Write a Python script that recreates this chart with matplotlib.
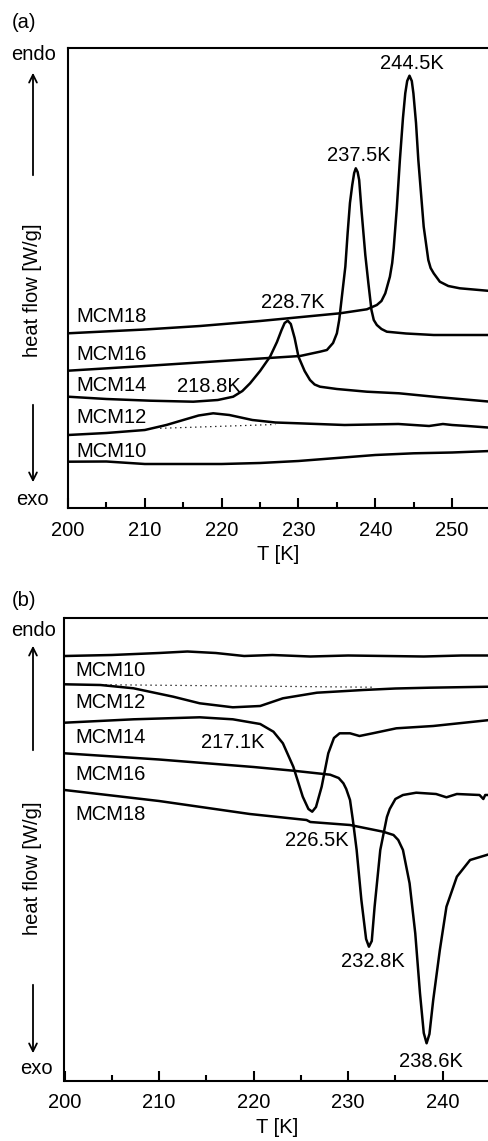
import numpy as np
import matplotlib
matplotlib.use("Agg")
import matplotlib.pyplot as plt
from matplotlib.patches import FancyArrowPatch

plt.rcParams['font.family'] = ['Liberation Sans', 'DejaVu Sans']
plt.rcParams['font.size'] = 14.5

W, H = 489, 1141

# ---- panel (a): heating, heat flow in arbitrary units (endo up) ----
a_t10 = [200, 205, 210, 215, 220, 225, 230, 235, 240, 245, 250, 255]
a_y10 = [46.3, 46.5, 44, 44, 44, 45, 47, 50, 53, 54.7, 55.5, 57]

a_t12 = [200, 205, 210, 212.8, 215, 217, 218.9, 221, 224, 227, 230, 236, 243, 247, 248.8, 250, 252, 255]
a_y12 = [73, 75, 78, 83, 88, 92.5, 94.7, 93, 88, 85.5, 84.7, 83, 84, 82, 84, 83, 82, 80.3]
a_base12_t = [212, 227]
a_base12_y = [79.7, 83.5]

a_t14 = [200, 205, 210.7, 216.3, 219.5, 221.5, 222.7, 223.7, 225.0, 226.3, 227.2, 227.8, 228.2,
         228.6, 229.0, 229.5, 230.0, 230.8, 231.5, 232.1, 232.8, 235, 238.9, 243.1, 248, 255]
a_y14 = [111.3, 109, 107.3, 106.3, 108, 111.3, 117, 124.7, 137, 151.3, 166, 178, 185,
         187.3, 184, 170, 151.3, 137, 128, 123.5, 121.3, 119, 116.3, 114.7, 111, 106.3]

a_t16 = [200, 210, 220, 230.2, 232.8, 233.7, 234.5, 235.0, 235.3, 235.6, 236.1, 236.4, 236.7,
         237.0, 237.25, 237.46, 237.7, 237.9, 238.2, 238.7, 239.1, 239.5, 239.8, 240.2, 240.8,
         241.5, 244, 247.6, 255]
a_y16 = [137.3, 142, 147, 152, 156.3, 158, 165, 174.7, 188, 208, 241.3, 275, 305,
         323, 335, 339.7, 336, 328, 298, 253, 224.7, 198, 188, 183, 179,
         176.3, 174.5, 173, 173]

a_t18 = [200, 210, 217.2, 225, 235.4, 238.9, 240.2, 240.8, 241.3, 241.9, 242.2, 242.4, 242.8,
         243.2, 243.6, 243.9, 244.15, 244.45, 244.75, 244.96, 245.3, 245.6, 246.3, 246.9, 247.2,
         247.6, 248.4, 249.5, 251, 255]
a_y18 = [174.7, 178.5, 182, 187, 194.7, 198.7, 203, 207, 214.7, 231.3, 245, 260, 300,
         348, 390, 414.7, 427, 432.3, 427, 414.7, 385, 348, 281.3, 248, 240,
         234.7, 226.3, 222, 219.7, 217]

# ---- panel (b): cooling ----
b_t10 = [200, 205, 210, 213, 216, 219, 222, 226, 230, 234, 238, 242, 245]
b_y10 = [425, 426, 428, 429.5, 428, 425, 426, 424.5, 425.5, 425, 424.5, 425.5, 425.5]

b_t12 = [200, 203.8, 207.3, 211.5, 214.3, 217.8, 220.7, 223.1, 226.7, 231.6, 235, 238.6, 245]
b_y12 = [396.7, 396, 392.7, 384.3, 377.7, 373.7, 375, 382.7, 388.3, 391, 392.5, 393.3, 394.3]
b_base12_t = [203.8, 232.6]
b_base12_y = [396.3, 393.8]

b_t14 = [200, 207.3, 214.3, 217.8, 220.7, 222.1, 223.1, 224.2, 225.2, 225.8, 226.2, 226.6,
         227.2, 227.9, 228.5, 229.1, 230.2, 231.2, 232.6, 235.1, 239, 245]
b_y14 = [358.3, 361.7, 363.7, 361.7, 357, 349.3, 337.7, 314.3, 284.3, 272, 269.3, 274,
         294.3, 327.7, 343, 347.7, 347.7, 345, 347.7, 352.7, 355, 361]

b_t16 = [200, 210, 220, 224.2, 228.1, 229.0, 229.5, 229.8, 230.2, 230.5, 230.9, 231.4, 231.9,
         232.2, 232.5, 232.8, 233.4, 234.1, 234.4, 235.0, 235.8, 237.2, 239.3, 240.4, 241.5,
         243.9, 244.3, 244.5, 245]
b_y16 = [327.7, 321.5, 314, 310.3, 306.3, 303, 297.7, 292, 281, 261, 231, 181, 142,
         134.3, 140, 174.3, 231, 264, 272, 282, 286, 288.3, 287, 283.7, 287,
         286, 282, 286, 286]

b_t18 = [200, 210, 219.6, 225.6, 226.0, 230.2, 233.7, 234.8, 235.3, 235.8, 236.5, 237.1, 237.6,
         238.0, 238.3, 238.6, 239.0, 239.7, 240.4, 241.5, 242.9, 245]
b_y18 = [291, 280, 267, 261, 259, 256, 249.3, 246, 241, 231, 197.7, 147.7, 87.7,
         48, 37.7, 47, 81, 131, 174.3, 204.3, 221, 227]

fig = plt.figure(figsize=(W / 100, H / 100), dpi=100)


def fx(x):
    return x / W


def fy(y):
    return 1 - y / H


def frame(ax, xmax, ymax):
    ax.set_xlim(200, xmax)
    ax.set_ylim(0, ymax)
    ax.spines['right'].set_visible(False)
    for s in ['left', 'top', 'bottom']:
        ax.spines[s].set_linewidth(1.5)
    ax.set_yticks([])
    ax.set_xticks(np.arange(200, xmax, 10))
    ax.set_xticks(np.arange(205, xmax, 10), minor=True)
    ax.tick_params(axis='x', which='major', direction='in', length=7, width=1.5, labelsize=14.5, pad=9)
    ax.tick_params(axis='x', which='minor', direction='in', length=4, width=1.5)
    ax.set_xlabel('T [K]', fontsize=14.5, labelpad=4)


def side(letter, y_tag, y_endo, up, ylab_y, down, y_exo, x_exo):
    fig.text(fx(12), fy(y_tag), letter, ha='left', va='center')
    fig.text(fx(34), fy(y_endo), 'endo', ha='center', va='center')
    fig.add_artist(FancyArrowPatch((fx(33), fy(up[0])), (fx(33), fy(up[1])), transform=fig.transFigure,
                                   arrowstyle='->', mutation_scale=14, lw=1.3, color='black'))
    fig.text(fx(33), fy(ylab_y), 'heat flow [W/g]', rotation=90, ha='center', va='center')
    fig.add_artist(FancyArrowPatch((fx(33), fy(down[0])), (fx(33), fy(down[1])), transform=fig.transFigure,
                                   arrowstyle='->', mutation_scale=14, lw=1.3, color='black'))
    fig.text(fx(x_exo), fy(y_exo), 'exo', ha='center', va='center')


lw = 1.8

# panel (a)
ax1 = fig.add_axes([fx(68), fy(508), 1 - fx(68), 460 / H])
frame(ax1, 254.8, 460)
for t, y in [(a_t10, a_y10), (a_t12, a_y12), (a_t14, a_y14), (a_t16, a_y16), (a_t18, a_y18)]:
    ax1.plot(t, y, color='black', lw=lw, solid_joinstyle='round')
ax1.plot(a_base12_t, a_base12_y, color='black', lw=0.9, ls=(0, (1, 3)))
for name, yv in [('MCM18', 192), ('MCM16', 154), ('MCM14', 123), ('MCM12', 90.7), ('MCM10', 57)]:
    ax1.text(201.1, yv, name, ha='left', va='center')
for lab, tx, yv in [('244.5K', 244.8, 444.7), ('237.5K', 237.8, 352.3),
                    ('228.7K', 229.3, 205.3), ('218.8K', 218.3, 122)]:
    ax1.text(tx, yv, lab, ha='center', va='center')
side('(a)', 23, 54, (178, 70), 290, (402, 485), 500, 32)

# panel (b)
ax2 = fig.add_axes([fx(64.5), fy(1081), 1 - fx(64.5), 463 / H])
frame(ax2, 244.9, 463)
for t, y in [(b_t10, b_y10), (b_t12, b_y12), (b_t14, b_y14), (b_t16, b_y16), (b_t18, b_y18)]:
    ax2.plot(t, y, color='black', lw=lw, solid_joinstyle='round')
ax2.plot(b_base12_t, b_base12_y, color='black', lw=0.9, ls=(0, (1, 3)))
for name, yv in [('MCM10', 411), ('MCM12', 378.3), ('MCM14', 343.3), ('MCM16', 306.7), ('MCM18', 266.7)]:
    ax2.text(201.2, yv, name, ha='left', va='center')
for lab, tx, yv in [('217.1K', 217.8, 338.7), ('226.5K', 226.7, 240),
                    ('232.8K', 232.6, 119.3), ('238.6K', 238.8, 19.3)]:
    ax2.text(tx, yv, lab, ha='center', va='center')
side('(b)', 601, 630, (753, 643), 868, (982, 1056), 1068, 36)

fig.savefig('out.png', dpi=100)
